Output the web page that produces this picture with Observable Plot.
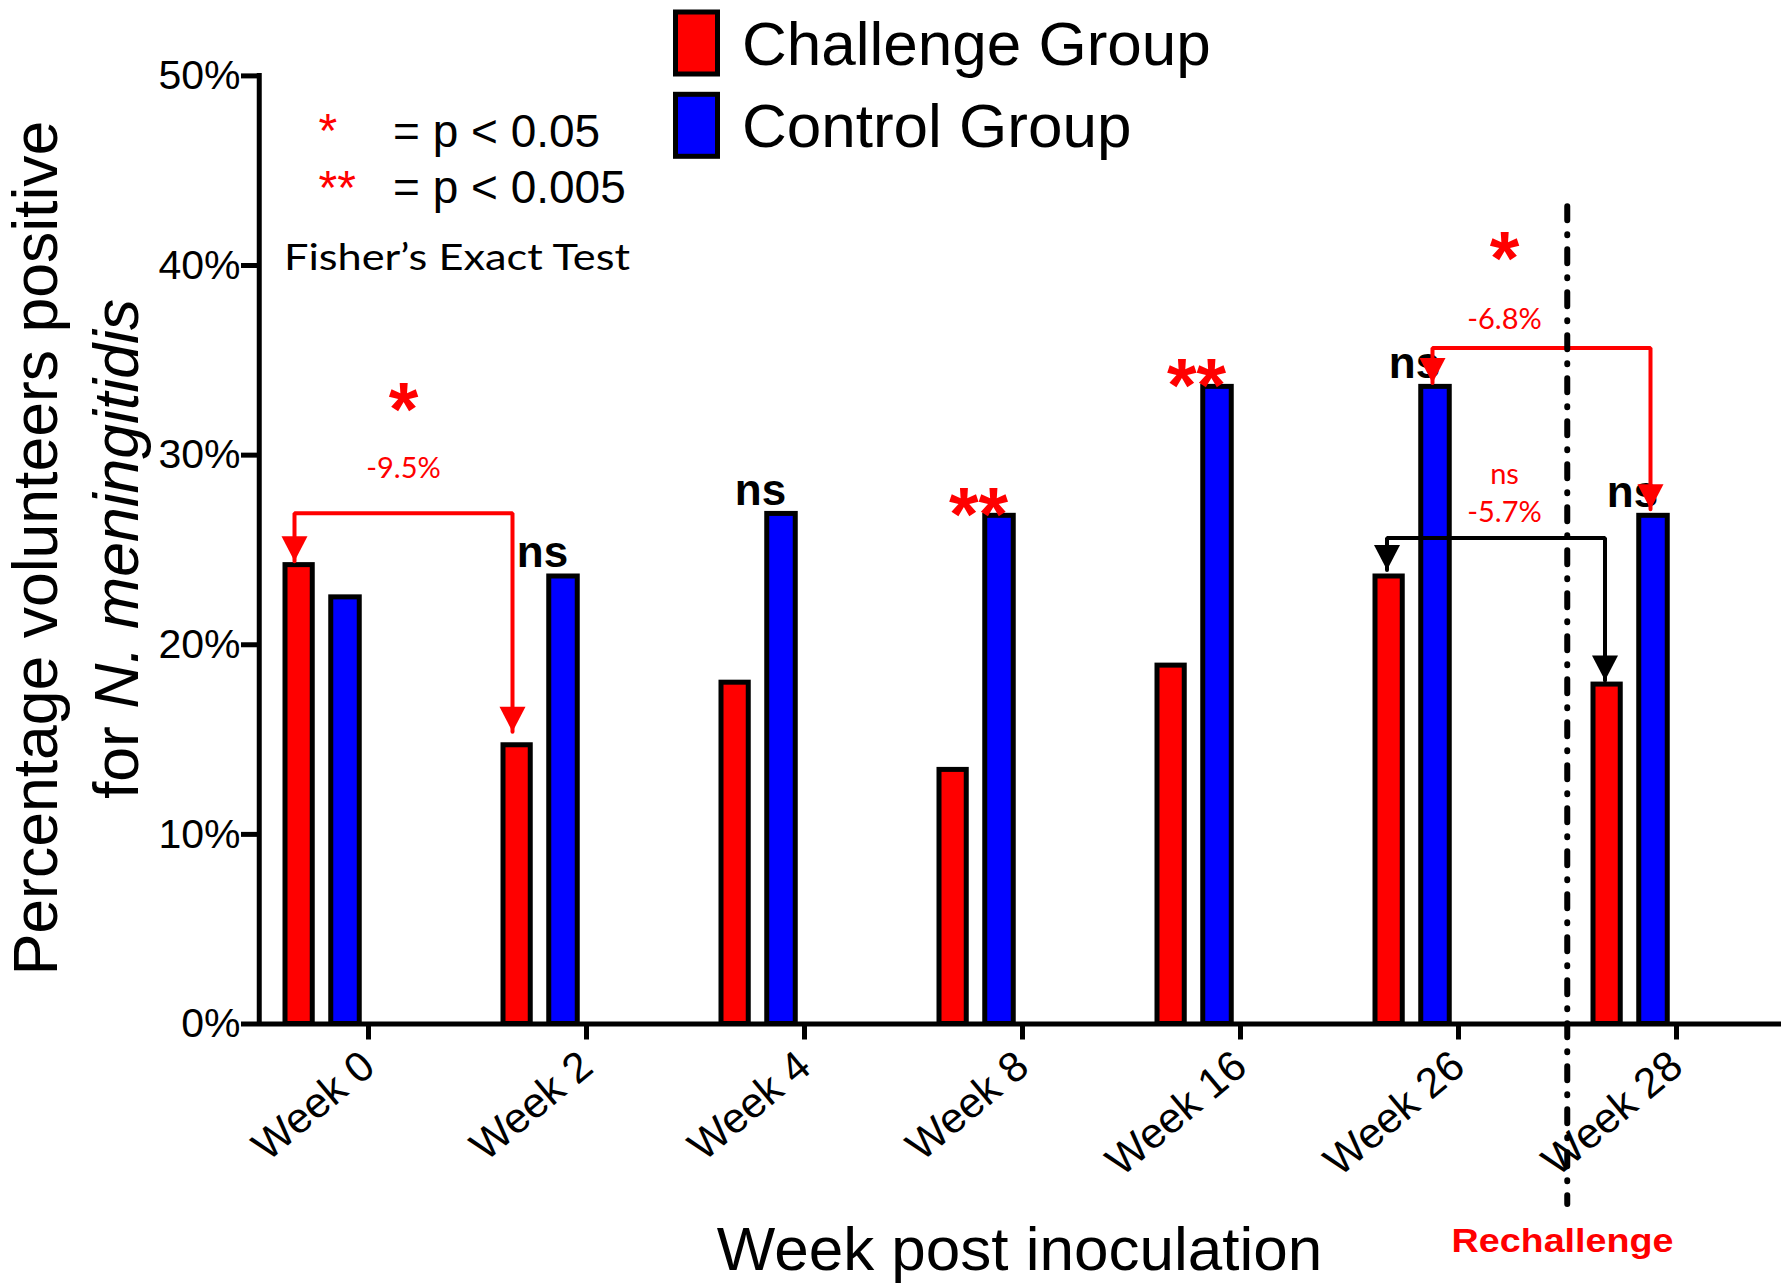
<!DOCTYPE html>
<html>
<head>
<meta charset="utf-8">
<script src="https://cdn.jsdelivr.net/npm/d3@7"></script>
<script src="https://cdn.jsdelivr.net/npm/@observablehq/plot@0.6"></script>
<style>
  body { margin: 0; background: #fff; }
  #chart { position: relative; width: 1781px; height: 1285px; }
</style>
</head>
<body>
<div id="chart"></div>
<script>
// ---------- data ----------
const weeks = ["Week 0", "Week 2", "Week 4", "Week 8", "Week 16", "Week 26", "Week 28"];
const challengePct = [24.2, 14.7, 18.0, 13.4, 18.9, 23.6, 17.9];
const controlPct = [22.5, 23.6, 26.9, 26.8, 33.6, 33.6, 26.8];
const groupNames = ["Challenge Group", "Control Group"];
const groupColors = ["#ff0000", "#0000ff"];
const yTickValues = [0, 10, 20, 30, 40, 50];

// significance between groups at each week
const sigWeeks = ["Week 2", "Week 4", "Week 8", "Week 16", "Week 26", "Week 28"];
const sigText = ["ns", "ns", "**", "**", "ns", "ns"];

// change brackets between weeks (values in %)
const bracketFrom = ["Week 0", "Week 26", "Week 26"];
const bracketTo = ["Week 2", "Week 28", "Week 28"];
const bracketLevel = [26.93, 35.65, 25.63];
const bracketFromTip = [24.41, 33.8, 23.94];
const bracketToTip = [15.41, 27.14, 18.12];
const bracketColor = ["#ff0000", "#ff0000", "#000000"];
const bracketTest = ["*", "*", "ns"];
const bracketTestY = [31.06, 39.0, 28.46];
const bracketChange = ["-9.5%", "-6.8%", "-5.7%"];
const bracketChangeY = [28.77, 36.63, 26.45];

const rechallengeWeek = "Week 28";
const rechallengeSpan = [43.1, -9.52];
const rechallengeLabelY = -12.04;

// ---------- layout constants ----------
const step = 218.5;
const half = step / 2;
const bracketDx = [-74, -26, -71.5];
const bracketLabelDx = [35, 46, 46];

const rows = weeks.flatMap((w, i) => [
  {week: w, group: groupNames[0], value: challengePct[i] / 100},
  {week: w, group: groupNames[1], value: controlPct[i] / 100}
]);
const sigRows = sigWeeks.map((w, k) => {
  const i = weeks.indexOf(w);
  return {week: w, label: sigText[k], top: Math.max(challengePct[i], controlPct[i]) / 100};
});

const arrowHead = {
  draw(ctx) {
    ctx.moveTo(0, 0);
    ctx.lineTo(-13, -25);
    ctx.lineTo(13, -25);
    ctx.closePath();
  }
};

const bracketMarks = bracketFrom.flatMap((from, b) => {
  const pts = [
    {week: from, v: bracketFromTip[b] / 100},
    {week: from, v: bracketLevel[b] / 100},
    {week: bracketTo[b], v: bracketLevel[b] / 100},
    {week: bracketTo[b], v: bracketToTip[b] / 100}
  ];
  const tips = [pts[0], pts[3]];
  const isStar = bracketTest[b] !== "ns";
  return [
    Plot.line(pts, {x: "week", y: "v", stroke: bracketColor[b], strokeWidth: 4, dx: bracketDx[b], strokeLinejoin: "miter"}),
    Plot.dot(tips, {x: "week", y: "v", symbol: arrowHead, r: 5, fill: bracketColor[b], stroke: "none", dx: bracketDx[b]}),
    Plot.text([{week: from, label: bracketTest[b], v: bracketTestY[b] / 100}], {
      x: "week", y: "v", text: "label", dx: bracketLabelDx[b], lineAnchor: "bottom",
      fill: "#ff0000",
      fontSize: isStar ? 76 : 29,
      fontWeight: isStar ? "bold" : "normal",
      fontFamily: isStar ? "Liberation Sans, Arial, sans-serif" : "Lato, sans-serif"
    }),
    Plot.text([{week: from, label: bracketChange[b], v: bracketChangeY[b] / 100}], {
      x: "week", y: "v", text: "label", dx: bracketLabelDx[b], lineAnchor: "bottom",
      fill: "#ff0000", fontSize: 29, fontFamily: "Lato, sans-serif"
    })
  ];
});

const chart = Plot.plot({
  width: 1781,
  height: 1285,
  marginLeft: 257,
  marginRight: 0,
  marginTop: 75.4,
  marginBottom: 261.5,
  style: {fontFamily: "Liberation Sans, Arial, sans-serif", background: "#fff", color: "#000", overflow: "visible"},
  x: {type: "band", domain: weeks, range: [256.75, 256.75 + step * weeks.length], padding: 0, label: null},
  y: {domain: [0, 0.5], label: null},
  color: {domain: groupNames, range: groupColors},
  marks: [
    Plot.barY(rows.filter(d => d.group === groupNames[0]), {
      x: "week", y: "value", fill: "group", stroke: "#000", strokeWidth: 5,
      insetLeft: 26, insetRight: 164.75
    }),
    Plot.barY(rows.filter(d => d.group === groupNames[1]), {
      x: "week", y: "value", fill: "group", stroke: "#000", strokeWidth: 5,
      insetLeft: 71.75, insetRight: 117.75
    }),
    Plot.ruleY([0], {stroke: "#000", strokeWidth: 5}),
    Plot.ruleX([weeks[0]], {dx: -half, stroke: "#000", strokeWidth: 5, strokeLinecap: "square"}),
    Plot.axisY({
      ticks: yTickValues.map(v => v / 100), tickFormat: d3.format(".0%"),
      tickSize: 16, tickPadding: 1, strokeWidth: 5, fontSize: 41, label: null
    }),
    Plot.axisX({tickSize: 16, tickPadding: 20, strokeWidth: 5, tickRotate: -40, fontSize: 42.5, label: null}),
    Plot.text(sigRows.filter(d => d.label === "ns"), {
      x: "week", y: "top", text: "label", dx: -44, dy: -9, lineAnchor: "bottom",
      fontSize: 44, fontWeight: "bold", fill: "#000"
    }),
    Plot.text(sigRows.filter(d => d.label !== "ns"), {
      x: "week", y: "top", text: "label", dx: -44, dy: 24, lineAnchor: "bottom",
      fontSize: 76, fontWeight: "bold", fill: "#ff0000"
    }),
    ...bracketMarks,
    Plot.ruleX([rechallengeWeek], {
      dx: -half, y1: rechallengeSpan[0] / 100, y2: rechallengeSpan[1] / 100,
      stroke: "#000", strokeWidth: 6, strokeDasharray: "14,14,1,14", strokeLinecap: "round"
    }),
    Plot.text([{week: rechallengeWeek, label: "Rechallenge"}], {
      x: "week", y: () => rechallengeLabelY / 100, text: "label", dx: -114, lineAnchor: "bottom",
      fontSize: 34, fontWeight: "bold", fill: "#ff0000"
    }),
    Plot.text(["Week post inoculation"], {frameAnchor: "bottom", lineAnchor: "bottom", dy: 246, fontSize: 62, fill: "#000"})
  ]
});

document.getElementById("chart").appendChild(chart);

// ---------- non-data text: legend, test note, y title ----------
const svg = d3.select(chart);
svg.selectAll("text").filter(function () { return this.textContent === "Rechallenge"; })
  .attr("textLength", 222).attr("lengthAdjust", "spacingAndGlyphs");

const ov = svg.append("g")
  .attr("font-family", "Liberation Sans, Arial, sans-serif")
  .attr("text-anchor", "start");
groupNames.forEach((g, i) => {
  ov.append("rect").attr("x", 675.5).attr("y", 12 + i * 82.3).attr("width", 42).attr("height", 62)
    .attr("fill", groupColors[i]).attr("stroke", "#000").attr("stroke-width", 5);
  ov.append("text").attr("x", 742).attr("y", 65 + i * 82.3).attr("font-size", 62).text(g);
});
const keyStars = ["*", "**"];
const keyText = ["= p < 0.05", "= p < 0.005"];
keyStars.forEach((s, i) => {
  ov.append("text").attr("x", 318.5).attr("y", 147 + i * 56.5).attr("font-size", 48).attr("fill", "#ff0000").text(s);
  ov.append("text").attr("x", 393).attr("y", 146.6 + i * 56.5).attr("font-size", 46).text(keyText[i]);
});
ov.append("text").attr("x", 284).attr("y", 270).attr("font-family", "Lato, sans-serif").attr("font-size", 37)
  .attr("textLength", 346).attr("lengthAdjust", "spacingAndGlyphs").text("Fisher\u2019s Exact Test");

ov.append("text").attr("transform", "translate(57,548) rotate(-90)").attr("text-anchor", "middle")
  .attr("font-size", 62.5).text("Percentage volunteers positive");
const t2 = ov.append("text").attr("transform", "translate(137.5,549) rotate(-90)").attr("text-anchor", "middle")
  .attr("font-size", 62.5);
t2.append("tspan").text("for ");
t2.append("tspan").attr("font-style", "italic").text("N. meningitidis");
</script>
</body>
</html>
